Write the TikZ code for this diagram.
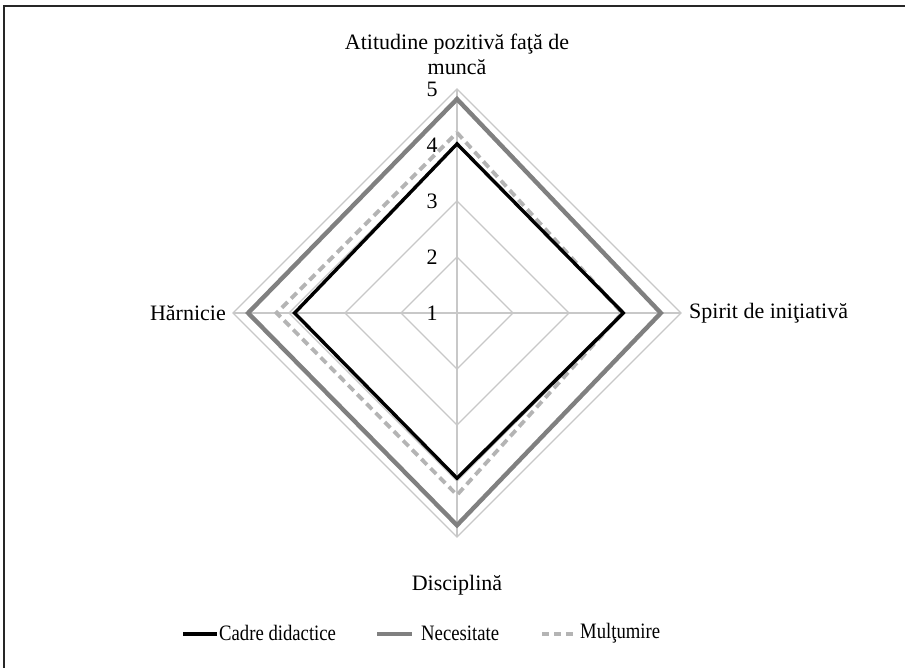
\documentclass[tikz,border=0pt]{standalone}
\usepackage{fontspec}
\setmainfont{Liberation Serif}
\usetikzlibrary{calc}
\begin{document}
\begin{tikzpicture}[x=1pt,y=-1pt,
  grid/.style={draw=gridgray,line width=1.1pt},
  cadre/.style={draw=black,line width=3.4pt,line join=miter},
  necesitate/.style={draw=midgray,line width=4.4pt,line join=miter},
  multumire/.style={draw=lightgray2,line width=3.8pt,dash pattern=on 8pt off 5pt,line join=miter},
  lbl/.style={font=\fontsize{22}{25}\selectfont,inner sep=0pt},
  leg/.style={font=\fontsize{22}{25}\selectfont,inner sep=0pt,anchor=west},
  tick/.style={font=\fontsize{22}{24}\selectfont,inner sep=0pt}]
\definecolor{gridgray}{RGB}{200,200,200}
\definecolor{midgray}{RGB}{128,128,128}
\definecolor{lightgray2}{RGB}{180,180,180}
\useasboundingbox (0,0) rectangle (905,668);
\fill[white] (0,0) rectangle (905,668);
% frame
\draw[line width=1.5pt,black!85] (4,668) -- (4,6) -- (905,6);
% centre and unit radius
\coordinate (O) at (457,313);
\def\u{56}
% grid diamonds
\foreach \v in {2,3,4,5}{
  \draw[grid] ($(O)+(0,{-(\v-1)*\u})$) -- ($(O)+({(\v-1)*\u},0)$) -- ($(O)+(0,{(\v-1)*\u})$) -- ($(O)+({-(\v-1)*\u},0)$) -- cycle;
}
% spokes
\coordinate (top) at ($(O)+(0,{-4*\u})$);
\coordinate (rgt) at ($(O)+({4*\u},0)$);
\coordinate (bot) at ($(O)+(0,{4*\u})$);
\coordinate (lft) at ($(O)+({-4*\u},0)$);
\draw[grid] (top) -- (bot);
\draw[grid] (lft) -- (rgt);
% series: values on top, right, bottom, left axes
\newcommand\series[5]{%
  \draw[#1] ($(O)+(0,{-(#2-1)*\u})$) -- ($(O)+({(#3-1)*\u},0)$) -- ($(O)+(0,{(#4-1)*\u})$) -- ($(O)+({-(#5-1)*\u},0)$) -- cycle;}
\series{necesitate}{4.82}{4.64}{4.79}{4.73}
\series{multumire}{4.22}{3.95}{4.25}{4.22}
\series{cadre}{4.02}{3.97}{3.95}{3.90}
% scale numbers
\foreach \v in {1,2,3,4,5}{
  \node[tick] (t\v) at ($(O)+(-25,{-(\v-1)*\u})$) {\v};
}
% axis titles
\node[lbl,align=center] (ax1) at (457,54) {Atitudine pozitivă faţă de\\muncă};
\node[lbl,anchor=west] (ax2) at (689,313) {Spirit de iniţiativă};
\node[lbl] (ax3) at (457,585) {Disciplină};
\node[lbl,anchor=east] (ax4) at (226,313) {Hărnicie};
% legend
\coordinate (l1a) at (183,634); \coordinate (l1b) at (217,634);
\draw[cadre,line width=3.8pt] (l1a) -- (l1b);
\node[leg] (lg1) at (219,633) {\scalebox{0.85}[1]{Cadre didactice}};
\coordinate (l2a) at (377,634); \coordinate (l2b) at (412,634);
\draw[necesitate] (l2a) -- (l2b);
\node[leg] (lg2) at (421,633) {\scalebox{0.85}[1]{Necesitate}};
\coordinate (l3a) at (542,634); \coordinate (l3b) at (576,634);
\draw[multumire,dash pattern=on 7pt off 5pt] (l3a) -- (l3b);
\node[leg] (lg3) at (580,633) {\scalebox{0.85}[1]{Mulţumire}};
\end{tikzpicture}
\end{document}
